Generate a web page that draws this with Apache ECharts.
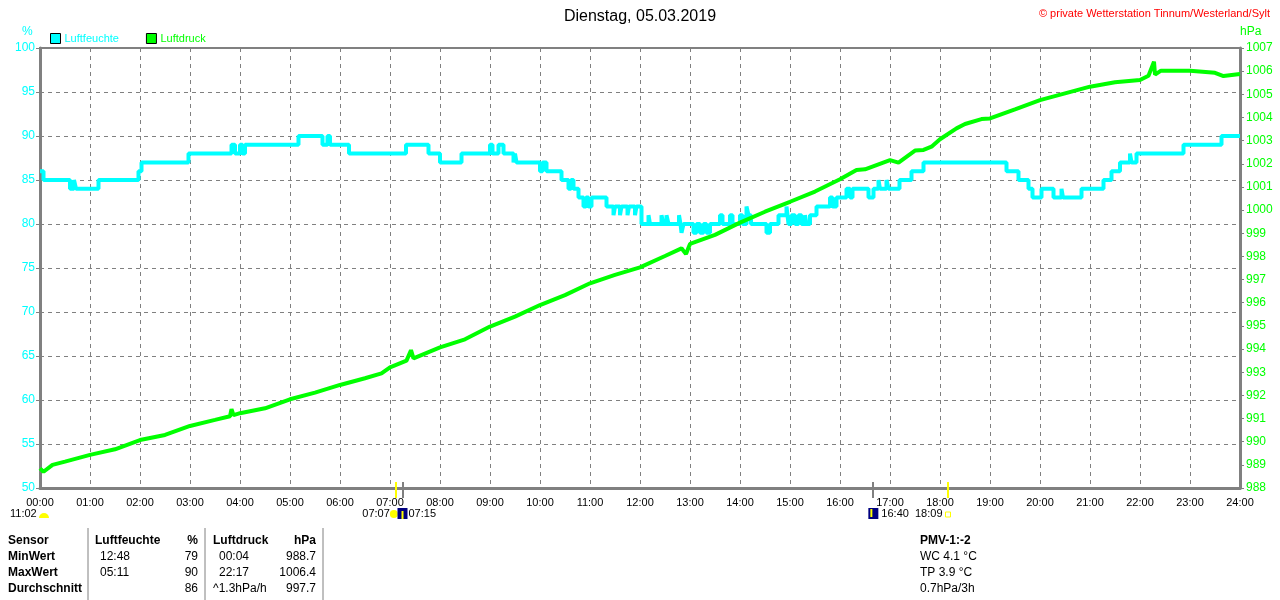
<!DOCTYPE html>
<html>
<head>
<meta charset="utf-8">
<script src="https://cdn.jsdelivr.net/npm/echarts@6/dist/echarts.min.js"></script>
<style>
html, body { margin: 0; padding: 0; background: #fff; }
#chart { width: 1280px; height: 600px; }
</style>
</head>
<body>
<div id="chart"></div>
<script>
// Stundenbeschriftung der x-Achse
var hourLabels = ['00:00','01:00','02:00','03:00','04:00','05:00','06:00','07:00','08:00',
    '09:00','10:00','11:00','12:00','13:00','14:00','15:00','16:00','17:00','18:00',
    '19:00','20:00','21:00','22:00','23:00','24:00'];

// Luftfeuchte in % : [Stunde, Wert] (Stufenverlauf)
var humidity = [
    [0, 86], [0.07, 85], [0.6, 84], [0.68, 85], [0.72, 84], [1.17, 85], [1.97, 86], [2.03, 87],
    [2.97, 88], [3.83, 89], [3.9, 88], [4.0, 89], [4.05, 88], [4.1, 89], [5.17, 90], [5.65, 89],
    [5.75, 90], [5.8, 89], [6.18, 88], [7.32, 89], [7.77, 88], [8.0, 87], [8.43, 88],
    [9.0, 89], [9.05, 88], [9.17, 89], [9.27, 88], [9.47, 87], [9.5, 88], [9.53, 87],
    [10.0, 86], [10.05, 87], [10.13, 86], [10.43, 85], [10.57, 84], [10.62, 85], [10.67, 84],
    [10.77, 83], [10.87, 82], [10.92, 83], [10.97, 82], [11.03, 83], [11.33, 82], [11.47, 81],
    [11.5, 82], [11.6, 81], [11.63, 82], [11.75, 81], [11.78, 82], [11.9, 81], [11.93, 82],
    [12.03, 80], [12.17, 81], [12.2, 80], [12.43, 81], [12.47, 80], [12.53, 81], [12.57, 80],
    [12.78, 81], [12.81, 80], [12.83, 79], [12.87, 80], [13.07, 79], [13.13, 80], [13.2, 79],
    [13.27, 80], [13.33, 79], [13.4, 80], [13.6, 81], [13.65, 80], [13.8, 81], [13.85, 80],
    [14.0, 81], [14.05, 80], [14.13, 82], [14.17, 81], [14.22, 80], [14.53, 79], [14.6, 80],
    [14.77, 81], [14.93, 82], [14.97, 80], [15.03, 81], [15.1, 80], [15.17, 81], [15.23, 80],
    [15.3, 81], [15.33, 80], [15.4, 81], [15.53, 82], [15.8, 83], [15.85, 82], [15.93, 83],
    [16.13, 84], [16.2, 83], [16.25, 84], [16.57, 83], [16.67, 84], [16.77, 85], [16.8, 84],
    [16.93, 85], [16.97, 84], [17.19, 85], [17.43, 86], [17.67, 87], [19.33, 86], [19.57, 85],
    [19.77, 84], [19.85, 83], [20.03, 84], [20.27, 83], [20.43, 84], [20.46, 83], [20.83, 84],
    [21.27, 85], [21.43, 86], [21.6, 87], [21.8, 88], [21.83, 87], [21.93, 88], [22.87, 89],
    [23.63, 90], [24, 90]
];

// Luftdruck in hPa : [Stunde, Wert]
var pressure = [
    [0, 988.85], [0.07, 988.7], [0.25, 989.0], [0.5, 989.14], [1, 989.43], [1.5, 989.67],
    [2, 990.07], [2.5, 990.29], [3, 990.68], [3.5, 990.94], [3.8, 991.1], [3.83, 991.4],
    [3.87, 991.15], [4, 991.23], [4.5, 991.44], [5, 991.83], [5.5, 992.12], [6, 992.45],
    [6.5, 992.74], [6.83, 992.95], [7, 993.21], [7.33, 993.5], [7.42, 993.95], [7.47, 993.6],
    [7.5, 993.67], [8, 994.07], [8.5, 994.42], [9, 994.97], [9.5, 995.4], [10, 995.9],
    [10.5, 996.33], [11, 996.84], [11.5, 997.2], [12, 997.53], [12.5, 998.02], [12.83, 998.35],
    [12.92, 998.1], [13, 998.54], [13.5, 998.93], [14, 999.46], [14.5, 999.93], [15, 1000.36],
    [15.5, 1000.8], [16, 1001.33], [16.33, 1001.73], [16.5, 1001.76], [17, 1002.16],
    [17.17, 1002.05], [17.5, 1002.57], [17.67, 1002.6], [17.83, 1002.74], [18, 1003.06],
    [18.33, 1003.53], [18.5, 1003.72], [18.83, 1003.93], [19, 1003.96], [19.5, 1004.35],
    [20, 1004.75], [20.5, 1005.04], [21, 1005.33], [21.5, 1005.52], [22, 1005.62],
    [22.17, 1005.8], [22.28, 1006.41], [22.3, 1005.85], [22.42, 1006.02], [23, 1006.02],
    [23.5, 1005.93], [23.67, 1005.79], [24, 1005.88]
];

// Sonnen-/Mondauf- und -untergang
var sunMoonTimes  = [7.117, 7.25, 16.667, 18.15];
var sunMoonLabels = ['07:07', '07:15', '16:40', '18:09'];
var sunMoonColors = ['#ffff00', '#808080', '#808080', '#ffff00'];
var dayLength = '11:02';

// Tabelle unten
var tableRows = ['Sensor', 'MinWert', 'MaxWert', 'Durchschnitt'];
var humTimes  = ['', '12:48', '05:11', ''];
var humStats  = ['%', '79', '90', '86'];
var presTimes = ['', '00:04', '22:17', '^1.3hPa/h'];
var presStats = ['hPa', '988.7', '1006.4', '997.7'];
var infoLines = ['PMV-1:-2', 'WC 4.1 °C', 'TP 3.9 °C', '0.7hPa/3h'];

var FONT = '"Liberation Sans", Arial, sans-serif';
var CYAN = '#00ffff';
var GREEN = '#00ff00';
var GRAY = '#808080';

var chart = echarts.init(document.getElementById('chart'));

var option = {
    animation: false,
    backgroundColor: '#fff',
    textStyle: { fontFamily: FONT },
    title: [
        {
            text: 'Dienstag, 05.03.2019',
            left: 'center',
            top: 4,
            textStyle: { fontSize: 16, fontWeight: 'normal', color: '#000', fontFamily: FONT }
        },
        {
            text: '© private Wetterstation Tinnum/Westerland/Sylt',
            right: 5,
            top: 3,
            textStyle: { fontSize: 11, fontWeight: 'normal', color: '#ff0000', fontFamily: FONT }
        }
    ],
    legend: {
        left: 50,
        top: 33,
        padding: 0,
        icon: 'rect',
        itemWidth: 10,
        itemHeight: 10,
        itemGap: 27,
        itemStyle: { borderColor: '#000', borderWidth: 1 },
        textStyle: { fontSize: 11, fontFamily: FONT, padding: [0, 0, 0, -1] },
        data: [
            { name: 'Luftfeuchte', textStyle: { color: CYAN } },
            { name: 'Luftdruck', textStyle: { color: GREEN } }
        ]
    },
    grid: {
        left: 40, right: 40, top: 48, bottom: 112,
        show: true,
        borderColor: GRAY,
        borderWidth: 2
    },
    xAxis: {
        type: 'value',
        min: 0, max: 24, interval: 1,
        axisLine: { lineStyle: { color: GRAY, width: 3 } },
        axisTick: { show: false },
        axisLabel: {
            color: '#000', fontSize: 11, margin: 9, fontFamily: FONT,
            formatter: function (v) { return hourLabels[v]; }
        },
        splitLine: { show: true, lineStyle: { color: GRAY, type: [4, 4], width: 1 } }
    },
    yAxis: [
        {
            type: 'value',
            min: 50, max: 100, interval: 5,
            axisLine: { show: true, lineStyle: { color: GRAY, width: 3 } },
            axisTick: { show: true, length: 4, lineStyle: { color: GRAY } },
            axisLabel: { color: CYAN, fontSize: 12, margin: 5, fontFamily: FONT },
            splitLine: { show: true, lineStyle: { color: GRAY, type: [4, 4], width: 1 } }
        },
        {
            type: 'value',
            min: 988, max: 1007, interval: 1,
            position: 'right',
            axisLine: { show: true, lineStyle: { color: GRAY, width: 3 } },
            axisTick: { show: true, length: 4, lineStyle: { color: GRAY } },
            axisLabel: {
                color: GREEN, fontSize: 12, margin: 6, fontFamily: FONT,
                formatter: function (v) { return String(v); }
            },
            splitLine: { show: false }
        }
    ],
    series: [
        {
            name: 'Luftfeuchte',
            type: 'line',
            step: 'end',
            yAxisIndex: 0,
            showSymbol: false,
            color: CYAN,
            lineStyle: { color: CYAN, width: 4 },
            data: humidity
        },
        {
            name: 'Luftdruck',
            type: 'line',
            yAxisIndex: 1,
            showSymbol: false,
            color: GREEN,
            lineStyle: { color: GREEN, width: 4 },
            data: pressure
        }
    ]
};

chart.setOption(option);

// Zusatzgrafik: Einheiten, Sonne/Mond-Markierungen, Tabelle
var els = [];
var axisY = chart.convertToPixel({ yAxisIndex: 0 }, 50);

els.push({ type: 'text', left: 22, top: 26, style: { text: '%', fill: CYAN, font: '12px ' + FONT } });
els.push({ type: 'text', left: 1240, top: 26, style: { text: 'hPa', fill: GREEN, font: '12px ' + FONT } });

sunMoonTimes.forEach(function (t, i) {
    var x = Math.round(chart.convertToPixel({ xAxisIndex: 0 }, t));
    els.push({ type: 'rect', z: 20, shape: { x: x - 1, y: axisY - 6, width: 2, height: 16 }, style: { fill: sunMoonColors[i] } });
});

var xs = sunMoonTimes.map(function (t) { return chart.convertToPixel({ xAxisIndex: 0 }, t); });
var labY = 508;
var small = '11px ' + FONT;
// Tageslänge
els.push({ type: 'text', x: 10, y: labY, style: { text: dayLength, fill: '#000', font: small } });
els.push({ type: 'sector', shape: { cx: 44, cy: 518, r0: 0, r: 5, startAngle: Math.PI, endAngle: 2 * Math.PI }, style: { fill: '#ffff00' } });
// Sonnenaufgang
els.push({ type: 'text', x: xs[0] - 6, y: labY, style: { text: sunMoonLabels[0], fill: '#000', font: small, align: 'right' } });
els.push({ type: 'circle', shape: { cx: xs[0] - 2, cy: 514, r: 4 }, style: { fill: '#ffff00' } });
// Mondaufgang
els.push({ type: 'rect', shape: { x: xs[1] - 5, y: 508, width: 10, height: 11 }, style: { fill: '#000080' } });
els.push({ type: 'rect', shape: { x: xs[1] - 1, y: 511, width: 2, height: 8 }, style: { fill: '#ffff00' } });
els.push({ type: 'text', x: xs[1] + 6, y: labY, style: { text: sunMoonLabels[1], fill: '#000', font: small } });
// Monduntergang
els.push({ type: 'rect', shape: { x: xs[2] - 5, y: 508, width: 10, height: 11 }, style: { fill: '#000080' } });
els.push({ type: 'rect', shape: { x: xs[2] - 3, y: 509, width: 2, height: 8 }, style: { fill: '#ffff00' } });
els.push({ type: 'text', x: xs[2] + 8, y: labY, style: { text: sunMoonLabels[2], fill: '#000', font: small } });
// Sonnenuntergang
els.push({ type: 'text', x: xs[3] - 5, y: labY, style: { text: sunMoonLabels[3], fill: '#000', font: small, align: 'right' } });
els.push({ type: 'rect', shape: { x: xs[3] - 2, y: 512, width: 5, height: 5 }, style: { fill: 'none', stroke: '#ffff00', lineWidth: 1 } });

// Tabelle
[88, 205, 323].forEach(function (x) {
    els.push({ type: 'line', shape: { x1: x, y1: 528, x2: x, y2: 600 }, style: { stroke: GRAY, lineWidth: 1 } });
});
var rowY = [535, 551, 567, 583];
tableRows.forEach(function (r, i) {
    els.push({ type: 'text', x: 8, y: rowY[i], style: { text: r, fill: '#000', font: 'bold 12px ' + FONT } });
    var bold = i === 0 ? 'bold ' : '';
    els.push({ type: 'text', x: i === 0 ? 95 : 100, y: rowY[i], style: { text: i === 0 ? 'Luftfeuchte' : humTimes[i], fill: '#000', font: bold + '12px ' + FONT } });
    els.push({ type: 'text', x: 198, y: rowY[i], style: { text: humStats[i], fill: '#000', font: bold + '12px ' + FONT, align: 'right' } });
    els.push({ type: 'text', x: i === 0 || i === 3 ? 213 : 219, y: rowY[i], style: { text: i === 0 ? 'Luftdruck' : presTimes[i], fill: '#000', font: bold + '12px ' + FONT } });
    els.push({ type: 'text', x: 316, y: rowY[i], style: { text: presStats[i], fill: '#000', font: bold + '12px ' + FONT, align: 'right' } });
    els.push({ type: 'text', x: 920, y: rowY[i], style: { text: infoLines[i], fill: '#000', font: bold + '12px ' + FONT } });
});

chart.setOption({ graphic: els });
</script>
</body>
</html>
